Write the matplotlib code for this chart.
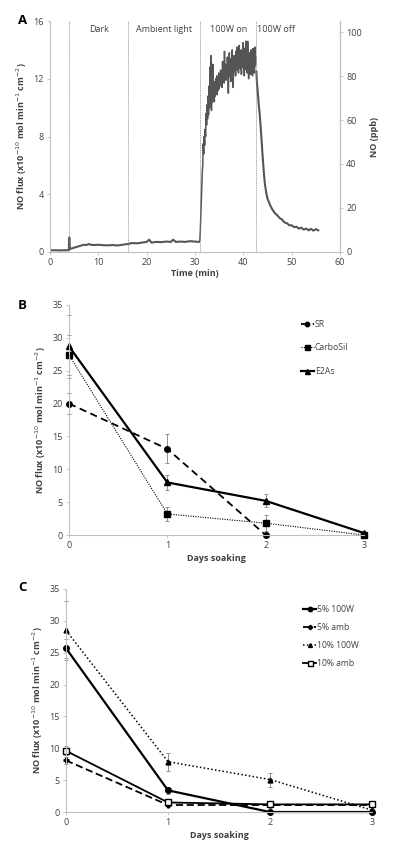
import numpy as np
import matplotlib
matplotlib.use("Agg")
import matplotlib.pyplot as plt

plt.rcParams["font.family"] = ["Open Sans", "DejaVu Sans"]
plt.rcParams["font.size"] = 6.5

# ---- panel A: NO flux trace ----
base_t = [0, 1, 2, 3, 3.9, 3.95, 4.0, 4.05, 4.1, 4.3, 5, 5.5, 6, 6.5, 7, 7.5, 8, 8.5, 9,
          10, 11, 12, 13, 14, 15, 16, 17, 18, 19, 20, 20.5, 21, 22, 23, 24, 25, 25.5,
          26, 27, 28, 29, 30, 30.8]
base_v = [0.12, 0.12, 0.11, 0.12, 0.12, 0.9, 1.0, 0.85, 0.2, 0.22, 0.3, 0.35, 0.4, 0.45,
          0.5, 0.48, 0.55, 0.5, 0.48, 0.5, 0.47, 0.46, 0.48, 0.45, 0.5, 0.55, 0.62, 0.6,
          0.65, 0.7, 0.85, 0.65, 0.7, 0.68, 0.72, 0.7, 0.85, 0.7, 0.72, 0.7, 0.75, 0.72, 0.7]

on_t = np.round(np.arange(31.0, 42.65, 0.1), 1)
on_v = [0.8, 1.5, 2.5, 3.5, 4.5, 5.5, 6.0, 7.5, 6.8, 8.0,
        7.4, 8.5, 8.0, 9.6, 8.8, 10.2, 9.2, 10.8, 9.5, 11.5,
        10.0, 12.8, 10.2, 13.6, 9.8, 11.2, 10.4, 13.0, 10.6, 11.4,
        10.4, 11.8, 10.8, 12.0, 11.0, 12.2, 10.9, 11.8, 11.2, 12.4,
        11.3, 12.0, 11.5, 12.6, 11.6, 12.3, 11.4, 13.2, 11.8, 12.8,
        11.7, 13.9, 12.0, 13.0, 11.9, 12.6, 12.1, 13.5, 12.3, 11.0,
        12.5, 13.8, 12.2, 12.9, 11.8, 13.4, 12.4, 14.0, 12.6, 11.4,
        12.8, 13.6, 12.5, 13.3, 12.2, 13.9, 12.7, 14.2, 12.6, 13.4,
        12.4, 14.3, 12.9, 13.8, 12.7, 14.0, 12.3, 13.6, 12.8, 14.5,
        13.0, 13.9, 12.2, 14.1, 12.9, 14.6, 12.6, 13.7, 12.4, 14.6,
        13.1, 12.0, 13.8, 12.5, 13.5, 12.3, 14.0, 12.6, 13.4, 12.2,
        14.1, 12.8, 13.6, 12.4, 14.2, 12.9, 13.5]

off_t = [42.7, 42.8, 43.0, 43.2, 43.4, 43.6, 43.8, 44.0, 44.2, 44.4, 44.6, 44.8, 45.0,
         45.3, 45.6, 46.0, 46.5, 47.0, 47.5, 48, 48.5, 49, 49.5, 50, 50.5, 51, 51.5,
         52, 52.5, 53, 53.5, 54, 54.5, 55, 55.5]
off_v = [12.5, 11.8, 11.0, 10.2, 9.5, 8.6, 7.6, 6.6, 5.7, 4.9, 4.4, 4.0, 3.7,
         3.45, 3.2, 2.95, 2.7, 2.55, 2.35, 2.25, 2.05, 2.0, 1.85, 1.85, 1.72, 1.75, 1.62,
         1.68, 1.55, 1.62, 1.5, 1.6, 1.48, 1.58, 1.5]

phase_lines = [4.0, 16.2, 31.0, 42.6]
phase_names = ["Dark", "Ambient light", "100W on", "100W off"]
phase_mid = [10.1, 23.6, 36.9, 46.8]

# ---- panel B ----
days = [0, 1, 2, 3]
sr_days = [0, 1, 2]
sr = [20.0, 13.1, 0.0]
sr_err = [1.6, 2.2, 0.0]
carbosil = [27.4, 3.2, 1.8, 0.0]
carbosil_err = [3.0, 1.0, 1.2, 0.0]
e2as = [28.7, 8.0, 5.2, 0.3]
e2as_err = [4.8, 1.2, 1.0, 0.2]

# ---- panel C ----
w5_100 = [25.7, 3.4, 0.0, 0.0]
w5_100_err = [1.5, 0.5, 0.0, 0.0]
w5_amb = [8.1, 1.1, 1.1, 1.1]
w5_amb_err = [0.6, 0.3, 0.2, 0.2]
w10_100 = [28.5, 7.9, 5.1, 0.3]
w10_100_err = [4.6, 1.4, 1.1, 0.2]
w10_amb = [9.6, 1.5, 1.2, 1.2]
w10_amb_err = [0.7, 0.3, 0.2, 0.2]

ylab = "NO flux (x10$^{-10}$ mol min$^{-1}$ cm$^{-2}$)"
spine_c = "#bfbfbf"
txt_c = "#404040"
fs = 6.5


def style(ax, spines=("left", "bottom")):
    for s in ax.spines:
        ax.spines[s].set_visible(s in spines)
        ax.spines[s].set_color(spine_c)
        ax.spines[s].set_linewidth(0.8)
    ax.tick_params(direction="out", length=2.5, width=0.6, color=spine_c,
                   labelcolor=txt_c, labelsize=fs, pad=2)


fig = plt.figure(figsize=(4.0, 8.51), dpi=100)

# panel A
axA = fig.add_axes([0.125, 0.7039, 0.725, 0.2714])
axA.plot(base_t, base_v, color="#555555", lw=1.5)
axA.plot(on_t, on_v, color="#555555", lw=1.1)
axA.plot(off_t, off_v, color="#555555", lw=1.5)
for x in phase_lines:
    axA.axvline(x, color="#808080", lw=0.6, ls=(0, (1, 1)))
for x, name in zip(phase_mid, phase_names):
    axA.text(x, 15.4, name, ha="center", va="center", fontsize=fs, color=txt_c)
axA.set_xlim(0, 60)
axA.set_ylim(0, 16)
axA.set_xticks(range(0, 61, 10))
axA.set_yticks([0, 4, 8, 12, 16])
axA.set_xlabel("Time (min)", fontweight="bold", fontsize=fs, color=txt_c, labelpad=1)
axA.set_ylabel(ylab, fontweight="bold", fontsize=fs, color=txt_c, labelpad=3)
style(axA, ("left", "bottom", "right"))
axA2 = axA.twinx()
axA2.set_ylim(0, 105)
axA2.set_yticks(range(0, 101, 20))
axA2.set_ylabel("NO (ppb)", fontweight="bold", fontsize=fs, color=txt_c,
                rotation=90, labelpad=6)
style(axA2, ("right",))
fig.text(0.045, 0.976, "A", fontsize=9.5, fontweight="bold", va="center")

ekw = dict(ecolor="#808080", elinewidth=0.6, capsize=1.2, capthick=0.6, clip_on=False)
lkw = dict(loc="upper left", frameon=False, fontsize=6.2, handlelength=1.5,
           handletextpad=0.1, markerscale=0.8, labelcolor=txt_c)

# panel B
axB = fig.add_axes([0.1725, 0.3713, 0.7375, 0.2703])
hB = []
hB.append(axB.errorbar(sr_days, sr, yerr=sr_err, color="black", lw=1.3,
                       ls=(0, (4, 2.5)), marker="o", ms=4, **ekw)[0])
hB.append(axB.errorbar(days, carbosil, yerr=carbosil_err, color="black", lw=0.8,
                       ls=(0, (1, 1.2)), marker="s", ms=4.5, **ekw)[0])
hB.append(axB.errorbar(days, e2as, yerr=e2as_err, color="black", lw=1.6, ls="-",
                       marker="^", ms=4.5, **ekw)[0])
axB.set_xlim(0, 3)
axB.set_ylim(0, 35)
axB.set_xticks(days)
axB.set_yticks(range(0, 36, 5))
axB.set_xlabel("Days soaking", fontweight="bold", fontsize=fs, color=txt_c, labelpad=3)
axB.set_ylabel(ylab, fontweight="bold", fontsize=fs, color=txt_c, labelpad=3)
style(axB)
axB.legend(hB, ["SR", "CarboSil", "E2As"], bbox_to_anchor=(0.76, 0.97),
           labelspacing=1.7, **lkw)
fig.text(0.045, 0.641, "B", fontsize=9.5, fontweight="bold", va="center")

# panel C
axC = fig.add_axes([0.165, 0.0458, 0.765, 0.2621])
hC = []
hC.append(axC.errorbar(days, w5_100, yerr=w5_100_err, color="black", lw=1.6, ls="-",
                       marker="o", ms=4, **ekw)[0])
hC.append(axC.errorbar(days, w5_amb, yerr=w5_amb_err, color="black", lw=1.3,
                       ls=(0, (4, 2)), marker="P", ms=3.5, **ekw)[0])
hC.append(axC.errorbar(days, w10_100, yerr=w10_100_err, color="black", lw=1.1,
                       ls=(0, (1, 1.5)), marker="^", ms=3.5, **ekw)[0])
hC.append(axC.errorbar(days, w10_amb, yerr=w10_amb_err, color="black", lw=1.3, ls="-",
                       marker="s", ms=4.5, mfc="white", **ekw)[0])
axC.set_xlim(0, 3)
axC.set_ylim(0, 35)
axC.set_xticks(days)
axC.set_yticks(range(0, 36, 5))
axC.set_xlabel("Days soaking", fontweight="bold", fontsize=fs, color=txt_c, labelpad=3)
axC.set_ylabel(ylab, fontweight="bold", fontsize=fs, color=txt_c, labelpad=3)
style(axC)
axC.legend(hC, ["5% 100W", "5% amb", "10% 100W", "10% amb"],
           bbox_to_anchor=(0.75, 0.965), labelspacing=1.05, **lkw)
fig.text(0.045, 0.31, "C", fontsize=9.5, fontweight="bold", va="center")

fig.savefig("out.png", dpi=100)
